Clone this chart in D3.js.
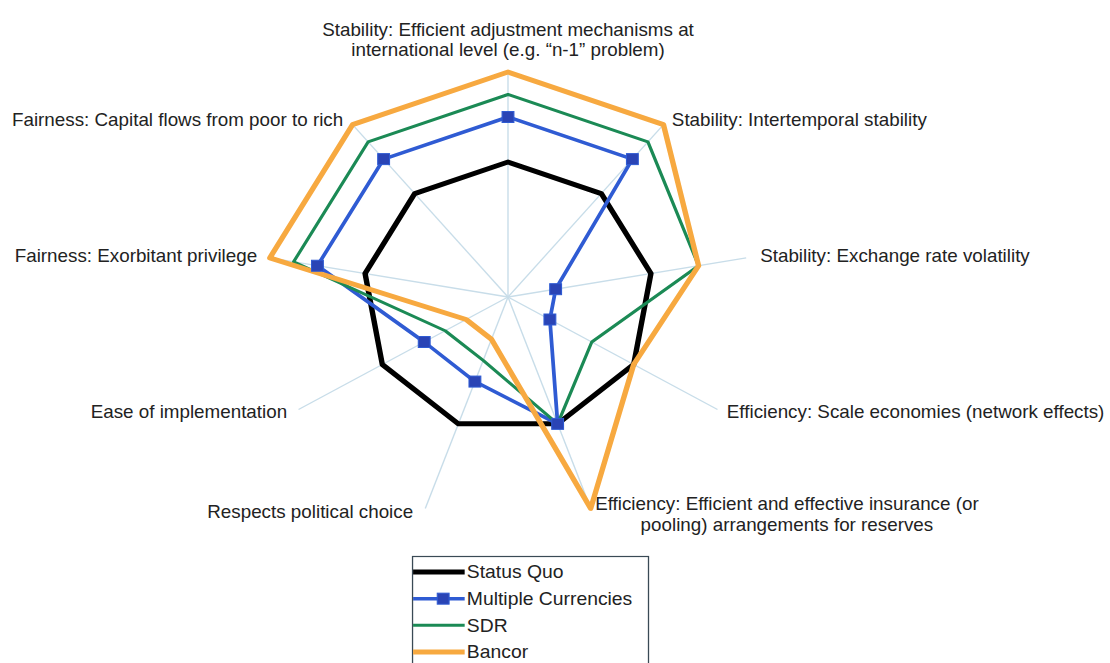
<!DOCTYPE html>
<html><head><meta charset="utf-8">
<script src="https://cdn.jsdelivr.net/npm/d3@7"></script>
<style>html,body{margin:0;padding:0;background:#fff;} svg{display:block;}</style>
</head><body><svg id="chart" width="1110" height="663"></svg>
<script>
// ---------------- DATA ----------------
const axisLabels = [
  ["Stability: Efficient adjustment mechanisms at", "international level (e.g. \u201Cn-1\u201D problem)"],
  ["Stability: Intertemporal stability"],
  ["Stability: Exchange rate volatility"],
  ["Efficiency: Scale economies (network effects)"],
  ["Efficiency: Efficient and effective insurance (or", "pooling) arrangements for reserves"],
  ["Respects political choice"],
  ["Ease of implementation"],
  ["Fairness: Exorbitant privilege"],
  ["Fairness: Capital flows from poor to rich"]
];
const seriesNames = ["Status Quo", "Multiple Currencies", "SDR", "Bancor"];
const statusQuo          = [3, 3, 3, 3, 3, 3, 3, 3, 3];
const multipleCurrencies = [4, 4, 1, 1, 3, 2, 2, 4, 4];
const sdr                = [4.5, 4.5, 4, 2, 3, 1.5, 1.5, 4.5, 4.5];
const bancor             = [5, 5, 4, 3, 5, 1, 1, 5, 5];
const valueDomain = [0, 5];

// ---------------- STYLE ----------------
const W = 1110, H = 663;
const cx = 508, cy = 297, stretchX = 1.075, radius = 225;
const seriesStyle = [
  {color: "#000000", width: 5,   marker: false},
  {color: "#2f5bd3", width: 3.5, marker: true, markerFill: "#2a44b5"},
  {color: "#1b8a55", width: 3,   marker: false},
  {color: "#f7a940", width: 5,   marker: false}
];
const seriesData = [statusQuo, multipleCurrencies, sdr, bancor];
// label offsets (local units) from the spoke end, and anchors
const labelPlace = [
  {anchor: "middle", dx: 0,     dy: -36.5, lh: 20},
  {anchor: "start",  dx: 7.8,   dy: 1.4},
  {anchor: "start",  dx: 13,    dy: 4},
  {anchor: "start",  dx: 8.7,   dy: 8.5},
  {anchor: "middle", dx: 182.5, dy: 1.6, lh: 21},
  {anchor: "end",    dx: -11.3, dy: 9.6},
  {anchor: "end",    dx: -10.6, dy: 8.5},
  {anchor: "end",    dx: -11.8, dy: 4},
  {anchor: "end",    dx: -8.7,  dy: 1.4}
];
const fontFamily = "'Liberation Sans', Arial, Helvetica, sans-serif";

// ---------------- DRAW ----------------
const svg = d3.select("#chart");
svg.append("rect").attr("width", W).attr("height", H).attr("fill", "#fff");

const g = svg.append("g").attr("transform", `translate(${cx},${cy}) scale(${stretchX},1)`);
const r = d3.scaleLinear().domain(valueDomain).range([0, radius]);
const angle = d3.scalePoint().domain(d3.range(axisLabels.length)).range([0, 2 * Math.PI * (axisLabels.length - 1) / axisLabels.length]);

const px = (i, v) => Math.sin(angle(i)) * r(v);
const py = (i, v) => -Math.cos(angle(i)) * r(v);

// spokes
g.selectAll("line.spoke").data(axisLabels).join("line")
  .attr("class", "spoke")
  .attr("x1", 0).attr("y1", 0)
  .attr("x2", (d, i) => px(i, valueDomain[1]))
  .attr("y2", (d, i) => py(i, valueDomain[1]))
  .attr("stroke", "#c8dde9").attr("stroke-width", 1.3);

// axis labels
axisLabels.forEach((lines, i) => {
  const p = labelPlace[i];
  const x0 = px(i, valueDomain[1]) + p.dx;
  const y0 = py(i, valueDomain[1]) + p.dy;
  const t = g.append("text")
    .attr("x", x0).attr("y", y0)
    .attr("text-anchor", p.anchor)
    .attr("font-family", fontFamily)
    .attr("font-size", 17.5)
    .attr("fill", "#222");
  lines.forEach((ln, k) => {
    t.append("tspan").attr("x", x0).attr("y", y0 + k * (p.lh || 20)).text(ln);
  });
});

// series lines
const line = d3.line()
  .x((d, i) => px(i, d))
  .y((d, i) => py(i, d))
  .curve(d3.curveLinearClosed);

seriesData.forEach((vals, s) => {
  g.append("path")
    .attr("d", line(vals))
    .attr("fill", "none")
    .attr("stroke", seriesStyle[s].color)
    .attr("stroke-width", seriesStyle[s].width)
    .attr("stroke-linejoin", "round");
});

// markers
const ms = 11;
seriesData.forEach((vals, s) => {
  if (!seriesStyle[s].marker) return;
  g.selectAll(null).data(vals).join("rect")
    .attr("x", (d, i) => px(i, d) - ms / 2)
    .attr("y", (d, i) => py(i, d) - ms / 2)
    .attr("width", ms).attr("height", ms)
    .attr("fill", seriesStyle[s].markerFill)
    .attr("stroke", seriesStyle[s].color).attr("stroke-width", 1);
});

// legend
const lg = svg.append("g").attr("transform", `translate(412,556) scale(${stretchX},1)`);
lg.append("rect").attr("x", 0.5).attr("y", 0.5).attr("width", 219.5).attr("height", 130)
  .attr("fill", "#fff").attr("stroke", "#3a4a55").attr("stroke-width", 1.2);
const rowY = d3.scalePoint().domain(seriesNames).range([16, 96]);
seriesNames.forEach((name, s) => {
  const y = rowY(name);
  lg.append("line").attr("x1", 1).attr("x2", 49).attr("y1", y).attr("y2", y)
    .attr("stroke", seriesStyle[s].color).attr("stroke-width", seriesStyle[s].width);
  if (seriesStyle[s].marker) {
    lg.append("rect").attr("x", 29 - ms / 2).attr("y", y - ms / 2).attr("width", ms).attr("height", ms)
      .attr("fill", seriesStyle[s].markerFill).attr("stroke", seriesStyle[s].color);
  }
  lg.append("text").attr("x", 51).attr("y", y + 6.4)
    .attr("font-family", fontFamily).attr("font-size", 18).attr("fill", "#222")
    .text(name);
});
</script></body></html>
